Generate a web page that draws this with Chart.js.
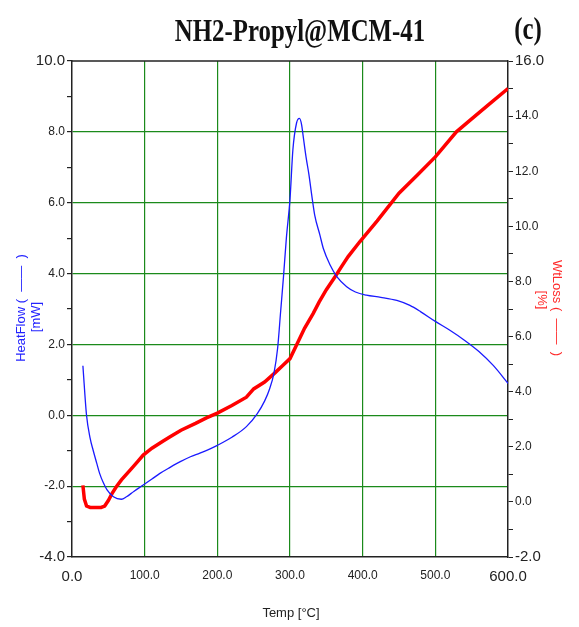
<!DOCTYPE html>
<html>
<head>
<meta charset="utf-8">
<script src="https://cdn.jsdelivr.net/npm/chart.js@4/dist/chart.umd.min.js"></script>
<style>
  html, body { margin: 0; padding: 0; background: #fff; }
  #wrap { width: 579px; height: 627px; position: relative; }
</style>
</head>
<body>
<div id="wrap"><canvas id="tga"></canvas></div>
<script>
// Heat flow (DSC) curve, mW vs temperature
const tempHeatFlow = [15, 20, 25, 29, 34, 38, 43, 48, 57, 68, 75, 85, 98, 110, 121, 135, 149, 163, 176, 190, 200, 220, 240, 255, 265, 272, 278, 283, 287, 291, 295, 300, 304, 309, 313, 316, 318, 322, 326, 330, 334, 341, 346, 355, 365, 378, 390, 405, 425, 447, 465, 480, 500, 520, 540, 560, 580, 600];
const heatFlow = [1.4, 0.0, -0.65, -0.98, -1.35, -1.64, -1.9, -2.1, -2.3, -2.37, -2.3, -2.15, -1.97, -1.8, -1.64, -1.47, -1.31, -1.17, -1.07, -0.95, -0.85, -0.62, -0.32, 0.05, 0.4, 0.75, 1.2, 1.9, 2.9, 3.9, 5.0, 6.1, 7.5, 8.25, 8.38, 8.2, 7.9, 7.3, 6.8, 6.2, 5.65, 5.1, 4.7, 4.25, 3.9, 3.63, 3.48, 3.39, 3.33, 3.24, 3.1, 2.92, 2.65, 2.4, 2.12, 1.8, 1.4, 0.9];

// Weight loss (TGA) curve, % vs temperature
const tempWtLoss = [15, 17, 20, 25, 30, 40, 45, 50, 55, 61, 68, 80, 90, 98, 110, 125, 135, 150, 170, 185, 200, 220, 240, 250, 265, 280, 290, 300, 310, 320, 332, 340, 350, 362, 370, 380, 396, 420, 450, 475, 500, 529, 550, 575, 600];
const wtLoss = [0.6, 0.1, -0.15, -0.2, -0.2, -0.2, -0.15, 0.05, 0.3, 0.55, 0.8, 1.15, 1.45, 1.7, 1.95, 2.2, 2.36, 2.6, 2.85, 3.05, 3.22, 3.5, 3.8, 4.1, 4.35, 4.7, 4.95, 5.2, 5.75, 6.3, 6.84, 7.25, 7.7, 8.17, 8.5, 8.9, 9.44, 10.2, 11.2, 11.85, 12.52, 13.43, 13.9, 14.45, 15.0];

const xTicksRange = [0, 600];
const heatFlowRange = [-4, 10];
const wtLossRange = [-2, 16];

const GREEN = '#1b8a1b';
const AXIS = '#222';
const FONT = '"Liberation Sans", Arial, sans-serif';

function pairs(xs, ys) {
  return xs.map((x, i) => ({ x: x, y: ys[i] }));
}

function tickFont(range) {
  return ctx => {
    const v = ctx.tick ? ctx.tick.value : 0;
    const end = v === range[0] || v === range[1];
    return { family: FONT, size: end ? 15 : 12 };
  };
}

function evenLabel(v) {
  return v % 2 === 0 ? v.toFixed(1) : '';
}

// frame, titles and rotated axis captions
const decorations = {
  id: 'decorations',
  afterDraw(chart) {
    const c = chart.ctx;
    const a = chart.chartArea;
    c.save();
    c.strokeStyle = AXIS;
    c.lineWidth = 1.5;
    c.beginPath();
    c.moveTo(a.left, a.top);
    c.lineTo(a.right, a.top);
    c.stroke();

    // heading
    c.fillStyle = '#111';
    c.textAlign = 'center';
    c.textBaseline = 'alphabetic';
    c.font = 'bold 27px "Liberation Serif", "Times New Roman", serif';
    c.save();
    c.translate(300, 41);
    c.scale(0.92, 1.15);
    c.fillText('NH2-Propyl@MCM-41', 0, 0);
    c.restore();
    c.save();
    c.translate(528, 39);
    c.scale(0.92, 1.15);
    c.fillText('(c)', 0, 0);
    c.restore();

    // x caption
    c.font = '13px ' + FONT;
    c.fillStyle = AXIS;
    c.textBaseline = 'middle';
    c.fillText('Temp [\u00B0C]', 291, 613);

    // left caption
    c.fillStyle = '#2222ff';
    c.save();
    c.translate(21, 308);
    c.rotate(-Math.PI / 2);
    c.fillText('HeatFlow (  \u2014\u2014  )', 0, 0);
    c.restore();
    c.save();
    c.translate(36, 317);
    c.rotate(-Math.PI / 2);
    c.fillText('[mW]', 0, 0);
    c.restore();

    // right caption
    c.fillStyle = '#ff2a2a';
    c.save();
    c.translate(557, 308);
    c.rotate(Math.PI / 2);
    c.fillText('WtLoss (  \u2014\u2014  )', 0, 0);
    c.restore();
    c.save();
    c.translate(542, 300);
    c.rotate(Math.PI / 2);
    c.fillText('[%]', 0, 0);
    c.restore();
    c.restore();
  }
};

new Chart(document.getElementById('tga'), {
  type: 'line',
  data: {
    datasets: [
      {
        label: 'HeatFlow',
        data: pairs(tempHeatFlow, heatFlow),
        yAxisID: 'y',
        borderColor: '#1a1aff',
        borderWidth: 1.3,
        pointRadius: 0,
        cubicInterpolationMode: 'monotone',
        fill: false
      },
      {
        label: 'WtLoss',
        data: pairs(tempWtLoss, wtLoss),
        yAxisID: 'y2',
        borderColor: '#ff0000',
        borderWidth: 3.5,
        pointRadius: 0,
        tension: 0,
        fill: false
      }
    ]
  },
  options: {
    responsive: true,
    maintainAspectRatio: false,
    animation: false,
    layout: { padding: { top: 61, left: 0, right: 0, bottom: 0 } },
    plugins: {
      legend: { display: false },
      tooltip: { enabled: false }
    },
    scales: {
      x: {
        type: 'linear',
        min: xTicksRange[0],
        max: xTicksRange[1],
        afterFit: s => { s.height = 70; },
        ticks: {
          stepSize: 100,
          color: AXIS,
          padding: 11,
          maxRotation: 0,
          font: tickFont(xTicksRange),
          callback: v => v.toFixed(1)
        },
        grid: {
          drawTicks: false,
          color: ctx => (ctx.tick && ctx.tick.value > 0 && ctx.tick.value < 600) ? GREEN : 'rgba(0,0,0,0)',
          lineWidth: 1.2
        },
        border: { color: AXIS, width: 1.5 }
      },
      y: {
        position: 'left',
        min: heatFlowRange[0],
        max: heatFlowRange[1],
        afterFit: s => { s.width = 72; },
        ticks: {
          stepSize: 1,
          color: AXIS,
          padding: 2,
          font: tickFont(heatFlowRange),
          callback: evenLabel
        },
        grid: {
          tickLength: 5,
          tickColor: AXIS,
          color: ctx => {
            const v = ctx.tick ? ctx.tick.value : 0;
            return (v % 2 === 0 && v > -4 && v < 10) ? GREEN : 'rgba(0,0,0,0)';
          },
          lineWidth: 1.2
        },
        border: { color: AXIS, width: 1.5 }
      },
      y2: {
        position: 'right',
        min: wtLossRange[0],
        max: wtLossRange[1],
        afterFit: s => { s.width = 71; },
        ticks: {
          stepSize: 1,
          color: AXIS,
          padding: 2,
          font: tickFont(wtLossRange),
          callback: evenLabel
        },
        grid: {
          drawOnChartArea: false,
          tickLength: 5,
          tickColor: AXIS
        },
        border: { color: AXIS, width: 1.5 }
      }
    }
  },
  plugins: [decorations]
});
</script>
</body>
</html>
